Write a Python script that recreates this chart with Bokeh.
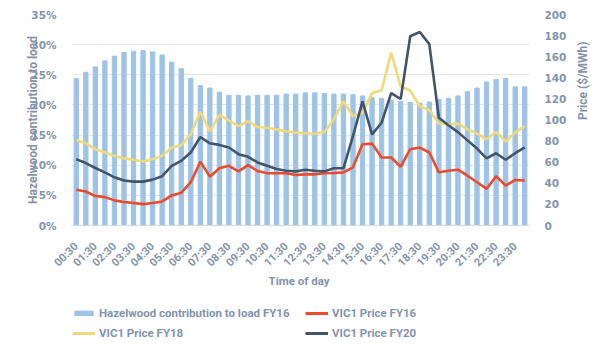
import math
from bokeh.plotting import figure
from bokeh.layouts import column
from bokeh.models import (Range1d, LinearAxis, FixedTicker, NumeralTickFormatter,
                          ColumnDataSource, Legend, LegendItem)
from bokeh.embed import file_html
from bokeh.resources import INLINE

times = ["00:30", "01:00", "01:30", "02:00", "02:30", "03:00", "03:30", "04:00",
         "04:30", "05:00", "05:30", "06:00", "06:30", "07:00", "07:30", "08:00",
         "08:30", "09:00", "09:30", "10:00", "10:30", "11:00", "11:30", "12:00",
         "12:30", "13:00", "13:30", "14:00", "14:30", "15:00", "15:30", "16:00",
         "16:30", "17:00", "17:30", "18:00", "18:30", "19:00", "19:30", "20:00",
         "20:30", "21:00", "21:30", "22:00", "22:30", "23:00", "23:30", "24:00"]

hazelwood_pct = [24.4, 25.4, 26.3, 27.3, 28.1, 28.7, 28.9, 29.0, 28.8, 28.3, 27.1, 26.0,
                 24.4, 23.2, 22.8, 22.1, 21.6, 21.6, 21.5, 21.6, 21.6, 21.6, 21.8, 21.8,
                 22.0, 22.0, 21.9, 21.8, 21.8, 21.7, 21.5, 21.2, 21.1, 20.8, 20.6, 20.4,
                 20.3, 20.5, 20.9, 21.1, 21.5, 22.2, 22.8, 23.8, 24.2, 24.4, 23.0, 23.0]

vic1_fy16 = [33.8, 32.2, 27.9, 26.9, 23.8, 22.2, 21.3, 20.3, 21.3, 22.8, 28.5, 31.0,
             41.0, 60.4, 46.3, 54.2, 56.6, 51.3, 57.3, 51.6, 49.5, 49.5, 49.5, 47.9,
             48.5, 48.5, 49.5, 49.8, 50.4, 55.1, 77.0, 77.6, 64.5, 64.5, 55.7, 72.3,
             73.9, 69.2, 50.4, 51.9, 52.9, 47.2, 41.0, 34.7, 46.7, 37.8, 43.2, 42.6]

vic1_fy18 = [81.1, 77.9, 72.3, 69.2, 66.0, 63.6, 62.3, 60.7, 62.9, 66.0, 73.9, 76.1,
             86.4, 107.7, 89.5, 104.9, 99.5, 94.2, 98.9, 93.3, 92.7, 91.1, 89.2, 88.0,
             87.5, 87.0, 88.6, 100.5, 117.7, 103.6, 106.7, 125.5, 128.0, 164.0, 131.8, 128.0,
             113.0, 109.2, 96.7, 95.8, 96.7, 91.1, 87.3, 81.7, 88.6, 79.8, 88.0, 94.2]

vic1_fy20 = [62.9, 59.2, 54.5, 50.4, 45.7, 42.6, 41.6, 41.6, 43.5, 46.7, 56.6, 61.3,
             69.2, 83.9, 77.9, 76.4, 73.9, 67.6, 65.1, 59.8, 56.6, 53.5, 51.9, 51.3,
             52.9, 51.9, 51.3, 54.2, 54.2, 84.8, 117.7, 86.4, 97.4, 125.5, 119.9, 179.4,
             183.4, 171.9, 102.1, 95.0, 88.5, 80.7, 72.9, 63.6, 68.5, 62.3, 68.5, 74.0]

left_ticks = [0, 0.05, 0.10, 0.15, 0.20, 0.25, 0.30, 0.35]
right_ticks = [0, 20, 40, 60, 80, 100, 120, 140, 160, 180, 200]

series_labels = ["Hazelwood contribution to load FY16", "VIC1 Price FY16",
                 "VIC1 Price FY18", "VIC1 Price FY20"]

TEXT = "#8393ab"
BAR = "#9dc3e6"
RED = "#ec4a2c"
YEL = "#efd97a"
DARK = "#44546a"
LW = 2.6

idx = list(range(len(times)))
src = ColumnDataSource(dict(x=idx, t=times, h=[v / 100 for v in hazelwood_pct],
                            p16=vic1_fy16, p18=vic1_fy18, p20=vic1_fy20))

p = figure(width=600, height=290, output_backend="svg", toolbar_location=None,
           x_range=Range1d(-0.5, len(times) - 0.5), y_range=Range1d(0, 0.35),
           min_border_left=71, min_border_right=61, min_border_top=14, min_border_bottom=63)
p.extra_y_ranges = {"price": Range1d(0, 200)}
p.outline_line_color = None
p.background_fill_color = "white"
p.border_fill_color = "white"

p.vbar(x="x", top="h", width=0.45, source=src, color=BAR)
p.line(x="x", y="p16", source=src, color=RED, line_width=LW, y_range_name="price")
p.line(x="x", y="p18", source=src, color=YEL, line_width=LW, y_range_name="price")
p.line(x="x", y="p20", source=src, color=DARK, line_width=LW, y_range_name="price")

# x axis
xa = p.xaxis[0]
xa.ticker = FixedTicker(ticks=idx[::2])
xa.major_label_overrides = {i: times[i] for i in idx[::2]}
xa.major_label_orientation = math.pi / 4
xa.major_tick_line_color = None
xa.minor_tick_line_color = None
xa.axis_line_color = "#d9d9d9"
xa.major_label_text_color = TEXT
xa.major_label_text_font = "Roboto"
xa.major_label_text_font_style = "bold"
xa.major_label_text_font_size = "11px"
xa.major_label_standoff = 13
xa.axis_label = "Time  of day"
xa.axis_label_text_color = TEXT
xa.axis_label_text_font = "Roboto"
xa.axis_label_text_font_style = "bold"
xa.axis_label_text_font_size = "11.5px"
xa.axis_label_standoff = -3

# left axis
ya = p.yaxis[0]
ya.ticker = FixedTicker(ticks=left_ticks)
ya.formatter = NumeralTickFormatter(format="0%")

ra = LinearAxis(y_range_name="price", ticker=FixedTicker(ticks=right_ticks))
p.add_layout(ra, "right")

for ax in [ya, ra]:
    ax.major_tick_line_color = None
    ax.minor_tick_line_color = None
    ax.axis_line_color = None
    ax.major_label_text_color = TEXT
    ax.major_label_text_font = "DejaVu Sans"
    ax.major_label_text_font_style = "bold"
    ax.major_label_text_font_size = "10.5px"
    ax.major_label_standoff = 9
    ax.axis_label_text_color = TEXT
    ax.axis_label_text_font = "Roboto"
    ax.axis_label_text_font_style = "bold"
    ax.axis_label_text_font_size = "12px"

ya.axis_label = "Hazelwood contribution to load"
ya.axis_label_standoff = -12
ra.axis_label = "Price ($/MWh)"
ra.axis_label_standoff = 14
try:
    ra.axis_label_orientation = math.pi / 2
except Exception:
    pass

p.xgrid.grid_line_color = None
p.ygrid.grid_line_color = "#e6e6e6"
p.ygrid.grid_line_width = 1

# legend strip below the chart (legend proxies use the same data, kept out of view)
lf = figure(width=600, height=54, output_backend="svg", toolbar_location=None,
            x_range=Range1d(1000, 1001), y_range=Range1d(1000, 1001),
            x_axis_location=None, y_axis_location=None,
            min_border=0, min_border_left=0, min_border_right=0,
            min_border_top=0, min_border_bottom=0)
lf.outline_line_color = None
lf.xgrid.grid_line_color = None
lf.ygrid.grid_line_color = None
lf.background_fill_color = "white"
lf.border_fill_color = "white"

k_bar = lf.vbar(x="x", top="h", width=0.45, source=src, color=BAR)
k16 = lf.line(x="x", y="p16", source=src, color=RED, line_width=3)
k18 = lf.line(x="x", y="p18", source=src, color=YEL, line_width=3)
k20 = lf.line(x="x", y="p20", source=src, color=DARK, line_width=3)


def make_legend(items, y):
    return Legend(items=items, location=(1, y), orientation="horizontal",
                  padding=1, margin=0, spacing=6, label_width=200,
                  glyph_width=23, glyph_height=6, label_height=18, label_standoff=4,
                  border_line_color=None, background_fill_alpha=0,
                  label_text_color=TEXT, label_text_font="Roboto",
                  label_text_font_style="bold", label_text_font_size="11.5px")


lf.add_layout(make_legend([LegendItem(label=series_labels[0], renderers=[k_bar]),
                           LegendItem(label=series_labels[1], renderers=[k16])], 22), "center")
lf.add_layout(make_legend([LegendItem(label=series_labels[2], renderers=[k18]),
                           LegendItem(label=series_labels[3], renderers=[k20])], 2), "center")

layout = column(p, lf, spacing=0)
open("out.html", "w").write(file_html(layout, INLINE))
